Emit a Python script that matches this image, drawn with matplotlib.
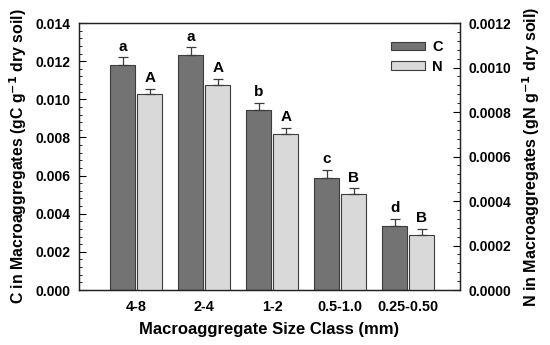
import numpy as np
import matplotlib
matplotlib.use('Agg')
import matplotlib.pyplot as plt
from matplotlib.ticker import MultipleLocator

plt.rcParams['font.family'] = ['Liberation Sans', 'DejaVu Sans']
plt.rcParams['font.weight'] = 'bold'
plt.rcParams['mathtext.default'] = 'bf'

size_class = ['4-8', '2-4', '1-2', '0.5-1.0', '0.25-0.50']
c_vals = [0.0118, 0.01232, 0.00944, 0.00589, 0.00336]
c_err = [0.0004, 0.0004, 0.00036, 0.0004, 0.00036]
n_vals = [0.00088, 0.000923, 0.0007, 0.000431, 0.000249]
n_err = [0.000024, 0.000025, 0.000027, 0.000026, 0.000024]
c_letters = ['a', 'a', 'b', 'c', 'd']
n_letters = ['A', 'A', 'A', 'B', 'B']

c_color = '#737373'
n_color = '#d9d9d9'
edge = '#3c3c3c'

fig = plt.figure(figsize=(5.5, 3.45), dpi=100)
ax = fig.add_axes([0.1436, 0.1594, 0.6927, 0.7739])
ax2 = ax.twinx()

x = np.arange(len(size_class))
w = 0.37
off = 0.2

zeros = np.zeros(len(x))
ax.bar(x - off, c_vals, w, color=c_color, edgecolor=edge, linewidth=0.8, label='C',
       yerr=[zeros, c_err], capsize=3.5, error_kw=dict(ecolor=edge, elinewidth=0.9, capthick=0.9))
ax2.bar(x + off, n_vals, w, color=n_color, edgecolor=edge, linewidth=0.8, label='N',
        yerr=[zeros, n_err], capsize=3.5, error_kw=dict(ecolor=edge, elinewidth=0.9, capthick=0.9))

for i in range(len(x)):
    ax.text(x[i] - off, c_vals[i] + c_err[i] + 0.0002, c_letters[i], ha='center', va='bottom',
            fontsize=11, fontweight='bold')
    ax2.text(x[i] + off, n_vals[i] + n_err[i] + 0.000017, n_letters[i], ha='center', va='bottom',
             fontsize=11, fontweight='bold')

ax.set_xlim(-0.84, 4.76)
ax.set_ylim(0, 0.014)
ax2.set_ylim(0, 0.0012)
ax.set_xticks(x)
ax.set_xticklabels(size_class, fontsize=10.4, fontweight='bold')
ax.tick_params(axis='x', length=0, pad=7)

ax.yaxis.set_major_locator(MultipleLocator(0.002))
ax.yaxis.set_minor_locator(MultipleLocator(0.0004))
ax.yaxis.set_major_formatter(matplotlib.ticker.FormatStrFormatter('%.3f'))
ax2.yaxis.set_major_locator(MultipleLocator(0.0002))
ax2.yaxis.set_minor_locator(MultipleLocator(0.00004))
ax2.yaxis.set_major_formatter(matplotlib.ticker.FormatStrFormatter('%.4f'))
for a in (ax, ax2):
    a.tick_params(axis='y', which='major', direction='in', length=5, width=0.8, labelsize=10, pad=6)
    a.tick_params(axis='y', which='minor', direction='in', length=2.5, width=0.6)
    for lab in a.get_yticklabels():
        lab.set_fontweight('bold')
    for s in a.spines.values():
        s.set_linewidth(0.9)
        s.set_color('#222222')

ax.set_ylabel(r'C in Macroaggregates (gC g$^{-1}$ dry soil)', fontsize=11.4, fontweight='bold', labelpad=5)
ax2.set_ylabel(r'N in Macroaggregates (gN g$^{-1}$ dry soil)', fontsize=11.6, fontweight='bold', labelpad=7)
ax.set_xlabel('Macroaggregate Size Class (mm)', fontsize=12, fontweight='bold', labelpad=6)

h1, l1 = ax.get_legend_handles_labels()
h2, l2 = ax2.get_legend_handles_labels()
leg = ax.legend(h1 + h2, l1 + l2, loc='upper left', bbox_to_anchor=(0.785, 0.985), frameon=False,
                handlelength=2.3, handleheight=0.55, handletextpad=0.5, labelspacing=0.4,
                prop=dict(weight='bold', size=10.5))

fig.savefig('out.png', dpi=100)
